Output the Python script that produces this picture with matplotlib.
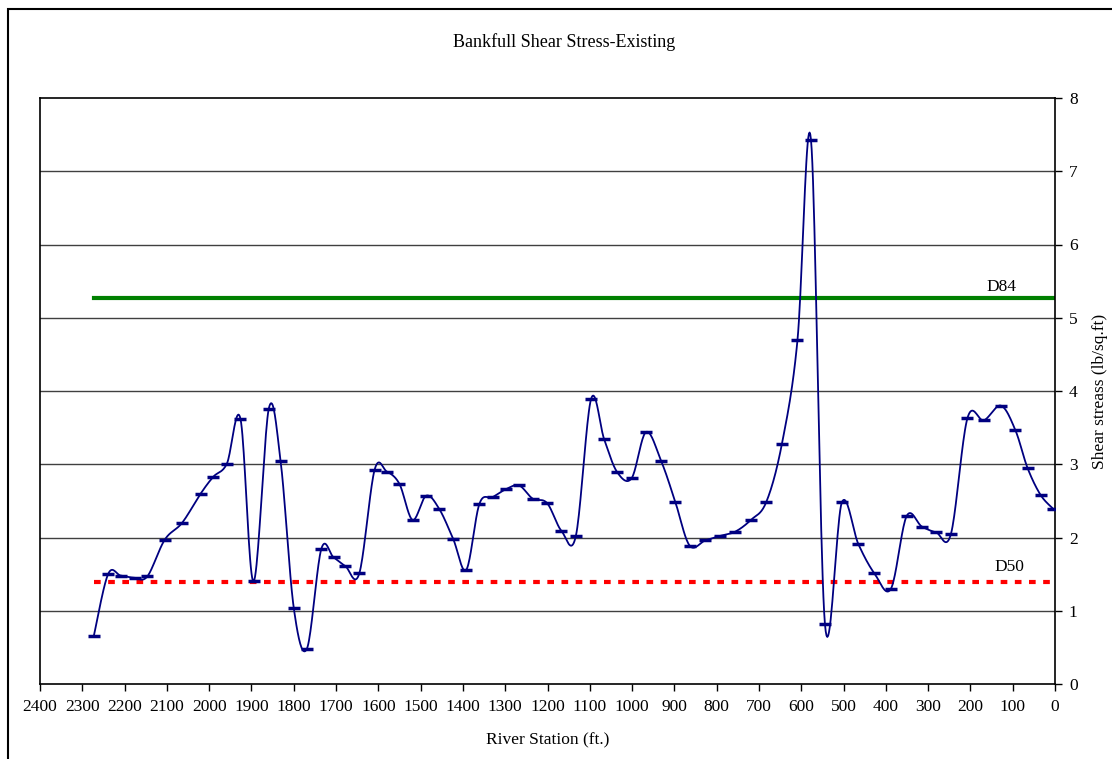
import numpy as np
import matplotlib
matplotlib.use("Agg")
import matplotlib.pyplot as plt
from matplotlib.patches import Rectangle

plt.rcParams['font.family'] = ['Liberation Serif', 'DejaVu Serif']

# river station (ft) and bankfull shear stress (lb/sq.ft)
station = [2273, 2239, 2209, 2176, 2146, 2105, 2064, 2020, 1990, 1958,
           1926, 1895, 1859, 1831, 1800, 1769, 1735, 1706, 1678, 1645,
           1609, 1580, 1550, 1519, 1487, 1456, 1423, 1392, 1361, 1330,
           1298, 1267, 1235, 1201, 1167, 1133, 1097, 1066, 1035, 1001,
           967, 931, 898, 864, 827, 793, 756, 719, 683, 646,
           609, 577, 544, 504, 465, 427, 388, 351, 315, 281,
           246, 207, 168, 128, 94, 65, 34, 4]
shear = [0.65, 1.50, 1.48, 1.45, 1.47, 1.97, 2.20, 2.60, 2.83, 3.01,
         3.62, 1.40, 3.76, 3.04, 1.04, 0.48, 1.84, 1.73, 1.61, 1.51,
         2.92, 2.90, 2.73, 2.24, 2.57, 2.39, 1.98, 1.56, 2.46, 2.55,
         2.66, 2.71, 2.53, 2.47, 2.09, 2.02, 3.89, 3.34, 2.89, 2.81,
         3.44, 3.04, 2.49, 1.89, 1.96, 2.02, 2.08, 2.24, 2.48, 3.27,
         4.69, 7.43, 0.82, 2.48, 1.91, 1.51, 1.30, 2.29, 2.15, 2.07,
         2.05, 3.63, 3.60, 3.80, 3.47, 2.95, 2.58, 2.39]

d84 = 5.27
d50 = 1.39
ref_start, ref_end = 2273, 0


def smooth(xs, ys, n=20):
    # Catmull-Rom style curve through the points (like Excel's smoothed line)
    p = np.column_stack([xs, ys]).astype(float)
    p = np.vstack([p[0], p, p[-1]])
    out = []
    t = np.linspace(0, 1, n, endpoint=False)[:, None]
    for i in range(1, len(p) - 2):
        p0, p1, p2, p3 = p[i - 1], p[i], p[i + 1], p[i + 2]
        c1 = p1 + (p2 - p0) / 6
        c2 = p2 - (p3 - p1) / 6
        seg = ((1 - t) ** 3) * p1 + 3 * ((1 - t) ** 2) * t * c1 + 3 * (1 - t) * t ** 2 * c2 + t ** 3 * p2
        out.append(seg)
    out.append(p[-2][None, :])
    out = np.vstack(out)
    return out[:, 0], out[:, 1]


fig = plt.figure(figsize=(11.12, 7.59), dpi=100)
fig.patches.append(Rectangle((8 / 1112, -0.1), 1.2, 1 - 9 / 759 + 0.1, transform=fig.transFigure,
                             fill=False, edgecolor='black', linewidth=1.5))
ax = fig.add_axes([40 / 1112, 75 / 759, 1015 / 1112, 586 / 759])

for v in range(1, 8):
    ax.axhline(v, color='#404040', linewidth=1.0, zorder=1)

ax.plot([ref_start, ref_end], [d84, d84], color='#008000', linewidth=3, zorder=2)
ax.plot([ref_start, ref_end], [d50, d50], color='#ff0000', linewidth=3,
        linestyle=(0, (1.6, 1.8)), zorder=2)

sx, sy = smooth(station, shear)
ax.plot(sx, sy, color='#000080', linewidth=1.3, zorder=3)
ax.plot(station, shear, linestyle='none', marker='_', markersize=8,
        markeredgewidth=2.5, color='#000080', zorder=4)

ax.text(126, d84 + 0.04, 'D84', fontsize=12.5, ha='center', va='bottom')
ax.text(109, d50 + 0.1, 'D50', fontsize=12.5, ha='center', va='bottom')

ax.set_xlim(2400, 0)
ax.set_ylim(0, 8)
ax.set_xticks(np.arange(2400, -1, -100))
ax.set_yticks(range(0, 9))
ax.yaxis.tick_right()
ax.yaxis.set_label_position('right')
ax.tick_params(axis='both', direction='out', length=5, width=1, labelsize=12.5, pad=6)
ax.tick_params(axis='y', length=5, pad=5)
for s in ax.spines.values():
    s.set_linewidth(1.2)

ax.set_xlabel('River Station (ft.)', fontsize=12.5, labelpad=12)
ax.set_ylabel('Shear streass (lb/sq.ft)', fontsize=12.5, labelpad=10)
fig.text(564 / 1112, 1 - 42 / 759, 'Bankfull Shear Stress-Existing', fontsize=13,
         ha='center', va='center')

fig.savefig('out.png', dpi=100)
